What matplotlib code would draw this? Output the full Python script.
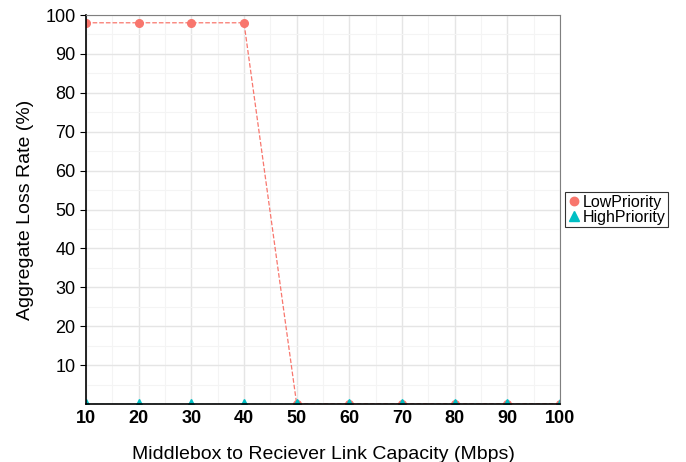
import numpy as np
import matplotlib
matplotlib.use("Agg")
import matplotlib.pyplot as plt

capacity = [10, 20, 30, 40, 50, 60, 70, 80, 90, 100]
low_priority = [98, 98, 98, 98, 0, 0, 0, 0, 0, 0]
high_priority = [0, 0, 0, 0, 0, 0, 0, 0, 0, 0]

plt.rcParams['font.family'] = ['Liberation Sans', 'DejaVu Sans']

fig = plt.figure(figsize=(6.86, 4.62), dpi=100)
ax = fig.add_axes([86/686, 58/462, 474/686, 389/462])

ax.plot(capacity, low_priority, color="#F8766D", linestyle="--", linewidth=0.9,
        marker="o", markersize=5.5, label="LowPriority", clip_on=True)
ax.plot(capacity, high_priority, color="#00BFC4", linestyle="--", linewidth=0.9,
        marker="^", markersize=7, label="HighPriority", clip_on=True)

ax.set_xlim(10, 100)
ax.set_ylim(0, 100)
ax.set_xticks(capacity)
ax.set_yticks(np.arange(10, 101, 10))
ax.set_xticks(np.arange(15, 100, 10), minor=True)
ax.set_yticks(np.arange(5, 100, 10), minor=True)

ax.grid(which="major", color="#E5E5E5", linewidth=1.0)
ax.grid(which="minor", color="#F4F4F4", linewidth=0.8)
ax.set_axisbelow(True)

for s in ["top", "right"]:
    ax.spines[s].set_color("#7F7F7F")
    ax.spines[s].set_linewidth(0.8)
for s in ["left", "bottom"]:
    ax.spines[s].set_color("black")
    ax.spines[s].set_linewidth(1.2)

ax.tick_params(axis="y", which="major", length=4, width=0.8, labelsize=13, colors="black")
ax.tick_params(axis="x", which="major", length=0, labelsize=13, pad=4)
ax.tick_params(which="minor", length=0)
for lab in ax.get_xticklabels():
    lab.set_fontweight("bold")

ax.set_xlabel("Middlebox to Reciever Link Capacity (Mbps)", fontsize=14, labelpad=14)
ax.set_ylabel("Aggregate Loss Rate (%)", fontsize=14, labelpad=8)

leg = ax.legend(loc="center left", bbox_to_anchor=(1.01, 0.5), fontsize=11.5,
                frameon=True, fancybox=False, edgecolor="black", handlelength=0.8,
                handletextpad=0.15, borderpad=0.15, labelspacing=0.0, borderaxespad=0,
                markerscale=1.1)
leg.get_frame().set_linewidth(0.8)
for h in leg.legend_handles:
    h.set_linestyle("none")

fig.savefig("out.png", dpi=100)
